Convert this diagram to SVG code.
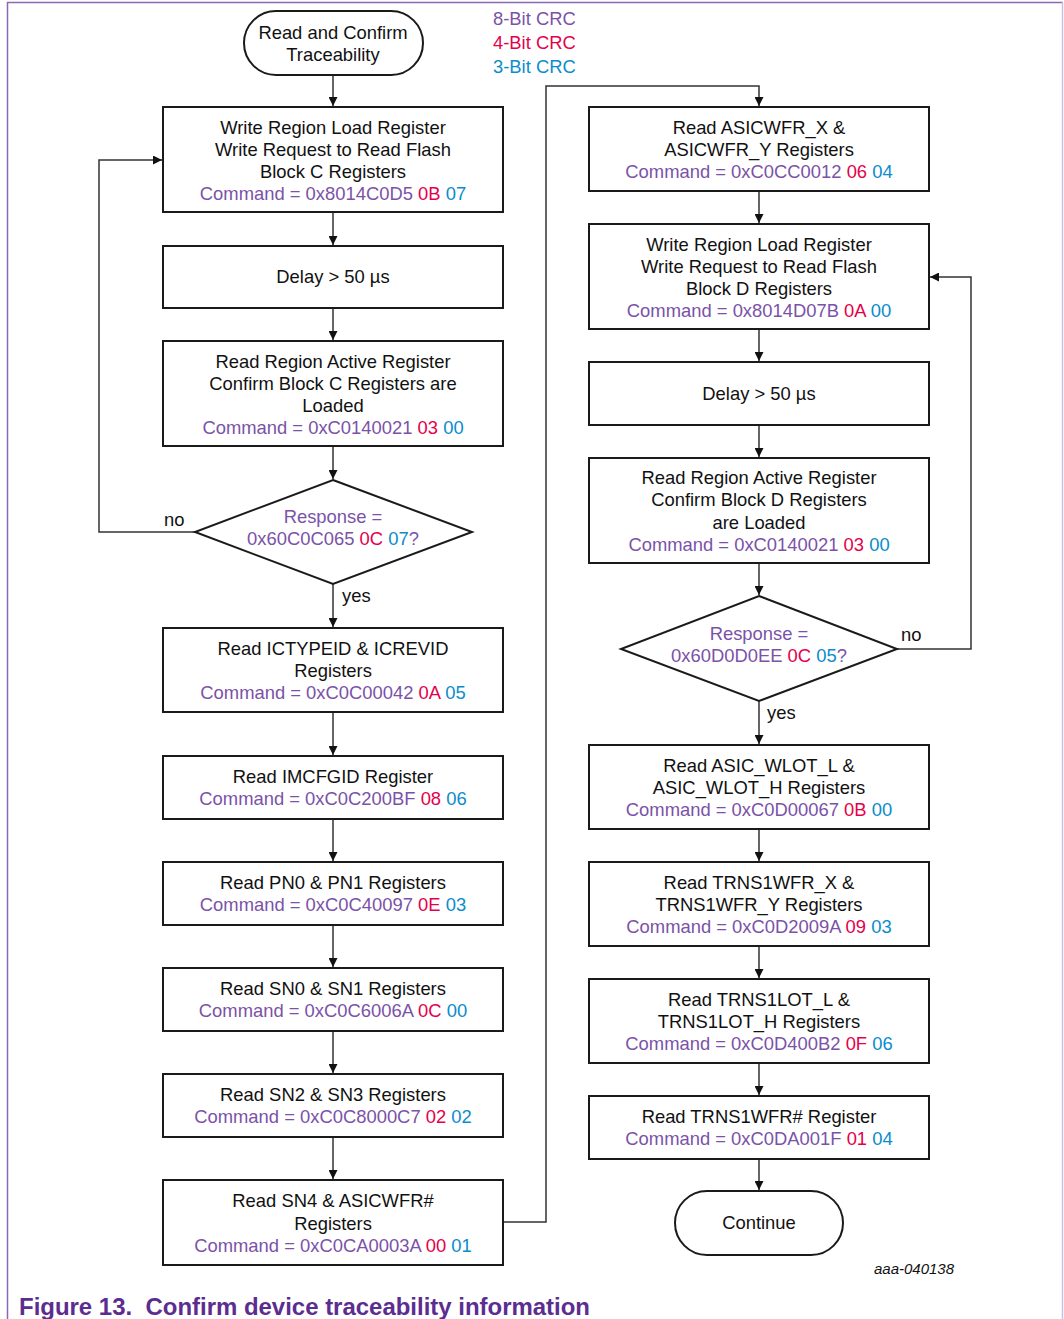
<svg xmlns="http://www.w3.org/2000/svg" width="1064" height="1319" viewBox="0 0 1064 1319">
  <style>
    .box { fill: #fff; stroke: #1a1a1a; stroke-width: 2; }
    .line { fill: none; stroke: #333; stroke-width: 1.5; }
    text { font-family: "Liberation Sans", Arial, sans-serif; font-size: 18.4px; fill: #111; }
    .c { text-anchor: middle; }
    .p { fill: #7B52A8; }
    .r { fill: #E5004B; }
    .b { fill: #0B8CCD; }
    .cap { font-size: 24px; font-weight: bold; fill: #5C2D91; }
    .id { font-size: 15px; font-style: italic; }
  </style>
  <defs>
    <marker id="arrow" viewBox="0 0 10 10" refX="10" refY="5" markerWidth="9" markerHeight="9" markerUnits="userSpaceOnUse" orient="auto">
      <path d="M0,0 L10,5 L0,10 z" fill="#111"/>
    </marker>
  </defs>

  <!-- page frame -->
  <g id="frame">
    <line x1="7" y1="2.5" x2="1063" y2="2.5" stroke="#8A68B8" stroke-width="1.5"/>
    <line x1="7.5" y1="2" x2="7.5" y2="1319" stroke="#8A68B8" stroke-width="1.5"/>
    <line x1="1062.5" y1="2" x2="1062.5" y2="1319" stroke="#CDBEE0" stroke-width="1.5"/>
  </g>

  <!-- CRC colour legend -->
  <g id="legend">
    <text x="493" y="25" class="p">8-Bit CRC</text>
    <text x="493" y="49" class="r">4-Bit CRC</text>
    <text x="493" y="73" class="b">3-Bit CRC</text>
  </g>

  <!-- connectors -->
  <g id="connectors">
    <line class="line" x1="333" y1="75" x2="333" y2="106" marker-end="url(#arrow)"/>
    <line class="line" x1="333" y1="212" x2="333" y2="245" marker-end="url(#arrow)"/>
    <line class="line" x1="333" y1="308" x2="333" y2="340" marker-end="url(#arrow)"/>
    <line class="line" x1="333" y1="446" x2="333" y2="479" marker-end="url(#arrow)"/>
    <polyline class="line" points="195,532 99,532 99,160 162,160" marker-end="url(#arrow)"/>
    <line class="line" x1="333" y1="584" x2="333" y2="627" marker-end="url(#arrow)"/>
    <line class="line" x1="333" y1="712" x2="333" y2="755" marker-end="url(#arrow)"/>
    <line class="line" x1="333" y1="819" x2="333" y2="861" marker-end="url(#arrow)"/>
    <line class="line" x1="333" y1="925" x2="333" y2="967" marker-end="url(#arrow)"/>
    <line class="line" x1="333" y1="1031" x2="333" y2="1073" marker-end="url(#arrow)"/>
    <line class="line" x1="333" y1="1137" x2="333" y2="1179" marker-end="url(#arrow)"/>
    <polyline class="line" points="503,1222 546,1222 546,86 759,86 759,106" marker-end="url(#arrow)"/>
    <line class="line" x1="759" y1="191" x2="759" y2="223" marker-end="url(#arrow)"/>
    <line class="line" x1="759" y1="329" x2="759" y2="361" marker-end="url(#arrow)"/>
    <line class="line" x1="759" y1="425" x2="759" y2="457" marker-end="url(#arrow)"/>
    <line class="line" x1="759" y1="563" x2="759" y2="595" marker-end="url(#arrow)"/>
    <polyline class="line" points="897,649 971,649 971,277 930,277" marker-end="url(#arrow)"/>
    <line class="line" x1="759" y1="701" x2="759" y2="744" marker-end="url(#arrow)"/>
    <line class="line" x1="759" y1="829" x2="759" y2="861" marker-end="url(#arrow)"/>
    <line class="line" x1="759" y1="946" x2="759" y2="978" marker-end="url(#arrow)"/>
    <line class="line" x1="759" y1="1063" x2="759" y2="1095" marker-end="url(#arrow)"/>
    <line class="line" x1="759" y1="1159" x2="759" y2="1190" marker-end="url(#arrow)"/>
    <text x="164" y="526">no</text>
    <text x="342" y="602">yes</text>
    <text x="901" y="641">no</text>
    <text x="767" y="719">yes</text>
  </g>

  <!-- left column -->
  <g id="start">
    <rect class="box" x="244" y="11" width="179" height="64" rx="32"/>
    <text x="333" y="39" class="c">Read and Confirm</text>
    <text x="333" y="61" class="c">Traceability</text>
  </g>
  <g id="write-block-c">
    <rect class="box" x="163" y="107" width="340" height="105"/>
    <text x="333" y="134" class="c">Write Region Load Register</text>
    <text x="333" y="156" class="c">Write Request to Read Flash</text>
    <text x="333" y="178" class="c">Block C Registers</text>
    <text x="333" y="200" class="c"><tspan class="p">Command = 0x8014C0D5 </tspan><tspan class="r">0B </tspan><tspan class="b">07</tspan></text>
  </g>
  <g id="delay-c">
    <rect class="box" x="163" y="246" width="340" height="62"/>
    <text x="333" y="283" class="c">Delay &gt; 50 µs</text>
  </g>
  <g id="confirm-block-c">
    <rect class="box" x="163" y="341" width="340" height="105"/>
    <text x="333" y="368" class="c">Read Region Active Register</text>
    <text x="333" y="390" class="c">Confirm Block C Registers are</text>
    <text x="333" y="412" class="c">Loaded</text>
    <text x="333" y="434" class="c"><tspan class="p">Command = 0xC0140021 </tspan><tspan class="r">03 </tspan><tspan class="b">00</tspan></text>
  </g>
  <g id="check-c">
    <polygon class="box" points="333,480 472,532 333,584 195,532"/>
    <text x="333" y="523" class="c p">Response =</text>
    <text x="333" y="545" class="c"><tspan class="p">0x60C0C065 </tspan><tspan class="r">0C </tspan><tspan class="b">07</tspan><tspan class="p">?</tspan></text>
  </g>
  <g id="read-ictypeid">
    <rect class="box" x="163" y="628" width="340" height="84"/>
    <text x="333" y="655" class="c">Read ICTYPEID &amp; ICREVID</text>
    <text x="333" y="677" class="c">Registers</text>
    <text x="333" y="699" class="c"><tspan class="p">Command = 0xC0C00042 </tspan><tspan class="r">0A </tspan><tspan class="b">05</tspan></text>
  </g>
  <g id="read-imcfgid">
    <rect class="box" x="163" y="756" width="340" height="63"/>
    <text x="333" y="783" class="c">Read IMCFGID Register</text>
    <text x="333" y="805" class="c"><tspan class="p">Command = 0xC0C200BF </tspan><tspan class="r">08 </tspan><tspan class="b">06</tspan></text>
  </g>
  <g id="read-pn">
    <rect class="box" x="163" y="862" width="340" height="63"/>
    <text x="333" y="889" class="c">Read PN0 &amp; PN1 Registers</text>
    <text x="333" y="911" class="c"><tspan class="p">Command = 0xC0C40097 </tspan><tspan class="r">0E </tspan><tspan class="b">03</tspan></text>
  </g>
  <g id="read-sn01">
    <rect class="box" x="163" y="968" width="340" height="63"/>
    <text x="333" y="995" class="c">Read SN0 &amp; SN1 Registers</text>
    <text x="333" y="1017" class="c"><tspan class="p">Command = 0xC0C6006A </tspan><tspan class="r">0C </tspan><tspan class="b">00</tspan></text>
  </g>
  <g id="read-sn23">
    <rect class="box" x="163" y="1074" width="340" height="63"/>
    <text x="333" y="1101" class="c">Read SN2 &amp; SN3 Registers</text>
    <text x="333" y="1123" class="c"><tspan class="p">Command = 0xC0C8000C7 </tspan><tspan class="r">02 </tspan><tspan class="b">02</tspan></text>
  </g>
  <g id="read-sn4">
    <rect class="box" x="163" y="1180" width="340" height="85"/>
    <text x="333" y="1207" class="c">Read SN4 &amp; ASICWFR#</text>
    <text x="333" y="1230" class="c">Registers</text>
    <text x="333" y="1252" class="c"><tspan class="p">Command = 0xC0CA0003A </tspan><tspan class="r">00 </tspan><tspan class="b">01</tspan></text>
  </g>

  <!-- right column -->
  <g id="read-asicwfr-xy">
    <rect class="box" x="589" y="107" width="340" height="84"/>
    <text x="759" y="134" class="c">Read ASICWFR_X &amp;</text>
    <text x="759" y="156" class="c">ASICWFR_Y Registers</text>
    <text x="759" y="178" class="c"><tspan class="p">Command = 0xC0CC0012 </tspan><tspan class="r">06 </tspan><tspan class="b">04</tspan></text>
  </g>
  <g id="write-block-d">
    <rect class="box" x="589" y="224" width="340" height="105"/>
    <text x="759" y="251" class="c">Write Region Load Register</text>
    <text x="759" y="273" class="c">Write Request to Read Flash</text>
    <text x="759" y="295" class="c">Block D Registers</text>
    <text x="759" y="317" class="c"><tspan class="p">Command = 0x8014D07B </tspan><tspan class="r">0A </tspan><tspan class="b">00</tspan></text>
  </g>
  <g id="delay-d">
    <rect class="box" x="589" y="362" width="340" height="63"/>
    <text x="759" y="400" class="c">Delay &gt; 50 µs</text>
  </g>
  <g id="confirm-block-d">
    <rect class="box" x="589" y="458" width="340" height="105"/>
    <text x="759" y="484" class="c">Read Region Active Register</text>
    <text x="759" y="506" class="c">Confirm Block D Registers</text>
    <text x="759" y="529" class="c">are Loaded</text>
    <text x="759" y="551" class="c"><tspan class="p">Command = 0xC0140021 </tspan><tspan class="r">03 </tspan><tspan class="b">00</tspan></text>
  </g>
  <g id="check-d">
    <polygon class="box" points="759,596 897,649 759,701 621,649"/>
    <text x="759" y="640" class="c p">Response =</text>
    <text x="759" y="662" class="c"><tspan class="p">0x60D0D0EE </tspan><tspan class="r">0C </tspan><tspan class="b">05</tspan><tspan class="p">?</tspan></text>
  </g>
  <g id="read-asic-wlot">
    <rect class="box" x="589" y="745" width="340" height="84"/>
    <text x="759" y="772" class="c">Read ASIC_WLOT_L &amp;</text>
    <text x="759" y="794" class="c">ASIC_WLOT_H Registers</text>
    <text x="759" y="816" class="c"><tspan class="p">Command = 0xC0D00067 </tspan><tspan class="r">0B </tspan><tspan class="b">00</tspan></text>
  </g>
  <g id="read-trns1wfr-xy">
    <rect class="box" x="589" y="862" width="340" height="84"/>
    <text x="759" y="889" class="c">Read TRNS1WFR_X &amp;</text>
    <text x="759" y="911" class="c">TRNS1WFR_Y Registers</text>
    <text x="759" y="933" class="c"><tspan class="p">Command = 0xC0D2009A </tspan><tspan class="r">09 </tspan><tspan class="b">03</tspan></text>
  </g>
  <g id="read-trns1lot">
    <rect class="box" x="589" y="979" width="340" height="84"/>
    <text x="759" y="1006" class="c">Read TRNS1LOT_L &amp;</text>
    <text x="759" y="1028" class="c">TRNS1LOT_H Registers</text>
    <text x="759" y="1050" class="c"><tspan class="p">Command = 0xC0D400B2 </tspan><tspan class="r">0F </tspan><tspan class="b">06</tspan></text>
  </g>
  <g id="read-trns1wfr-num">
    <rect class="box" x="589" y="1096" width="340" height="63"/>
    <text x="759" y="1123" class="c">Read TRNS1WFR# Register</text>
    <text x="759" y="1145" class="c"><tspan class="p">Command = 0xC0DA001F </tspan><tspan class="r">01 </tspan><tspan class="b">04</tspan></text>
  </g>
  <g id="continue">
    <rect class="box" x="675" y="1191" width="168" height="64" rx="32"/>
    <text x="759" y="1229" class="c">Continue</text>
  </g>

  <text x="914" y="1274" class="c id">aaa-040138</text>
  <text x="19" y="1315" class="cap" textLength="571" lengthAdjust="spacingAndGlyphs">Figure 13.&#160; Confirm device traceability information</text>
</svg>
